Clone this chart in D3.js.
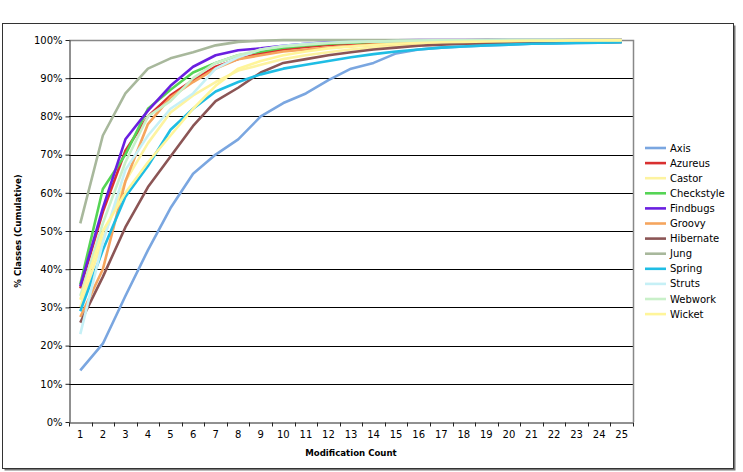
<!DOCTYPE html>
<html>
<head>
<meta charset="utf-8">
<script src="https://cdn.jsdelivr.net/npm/d3@7"></script>
<style>
  body { margin: 0; background: #fff; }
  text { font-family: "DejaVu Sans", Verdana, sans-serif; }
</style>
</head>
<body>
<script>
const width = 743;
const height = 472;

const counts = d3.range(1, 26);
const yTicks = [0, 10, 20, 30, 40, 50, 60, 70, 80, 90, 100];

const projects = ["Axis", "Azureus", "Castor", "Checkstyle", "Findbugs", "Groovy", "Hibernate", "Jung", "Spring", "Struts", "Webwork", "Wicket"];
const colors = ["#7aa6e0", "#d93030", "#fdf3a0", "#55d455", "#6a1fe0", "#f5a55e", "#8b5555", "#a8b89c", "#1fbde4", "#c6f0f6", "#c9f0c9", "#fff59a"];

const axis       = [13.5, 20.5, 33, 45, 56, 65, 70, 74, 80, 83.5, 86, 89.5, 92.5, 94, 96.5, 97.5, 98, 98.3, 98.6, 98.8, 99, 99.1, 99.2, 99.3, 99.4];
const azureus    = [35, 55, 71, 80, 85.5, 89.5, 93, 95, 96.5, 97.5, 98.2, 98.7, 99, 99.3, 99.5, 99.6, 99.7, 99.8, 99.8, 99.9, 99.9, 99.9, 100, 100, 100];
const castor     = [30, 48, 63, 73, 81, 85.5, 89, 92, 93.5, 95, 96, 96.8, 97.5, 98, 98.5, 99, 99.2, 99.4, 99.5, 99.6, 99.7, 99.8, 99.8, 99.9, 99.9];
const checkstyle = [36, 61, 70, 82, 87, 91.5, 94, 96, 97, 98, 98.6, 99, 99.3, 99.5, 99.7, 99.8, 99.9, 99.9, 100, 100, 100, 100, 100, 100, 100];
const findbugs   = [35.5, 56, 74, 81.5, 88, 93, 96, 97.3, 97.8, 98.5, 99, 99.4, 99.6, 99.8, 99.9, 100, 100, 100, 100, 100, 100, 100, 100, 100, 100];
const groovy     = [27.5, 40, 63, 78, 85, 89, 92.5, 95, 96, 97, 97.5, 98, 98.4, 98.8, 99, 99.2, 99.4, 99.5, 99.6, 99.7, 99.8, 99.8, 99.9, 99.9, 100];
const hibernate  = [26, 38, 51, 61.5, 69.5, 77.5, 84, 87.5, 91.5, 94, 95, 96, 96.8, 97.5, 98, 98.5, 98.8, 99, 99.1, 99.2, 99.3, 99.3, 99.4, 99.4, 99.5];
const jung       = [52, 75, 86, 92.5, 95.2, 96.8, 98.6, 99.5, 99.8, 100, 100, 100, 100, 100, 100, 100, 100, 100, 100, 100, 100, 100, 100, 100, 100];
const spring     = [29, 45, 59, 67, 76.5, 82, 86.5, 89, 91, 92.5, 93.5, 94.5, 95.5, 96.3, 97, 97.5, 98, 98.3, 98.6, 98.8, 99, 99.1, 99.2, 99.3, 99.4];
const struts     = [23, 47, 66, 75, 82, 86, 92.5, 95.5, 97.5, 98.5, 99, 99.3, 99.5, 99.6, 99.7, 99.8, 99.9, 99.9, 99.9, 100, 100, 100, 100, 100, 100];
const webwork    = [33, 52, 68, 80, 84, 90, 94, 96, 97.5, 98.3, 98.8, 99.2, 99.4, 99.6, 99.7, 99.8, 99.9, 99.9, 99.9, 100, 100, 100, 100, 100, 100];
const wicket     = [32, 50, 60, 68, 75, 82, 88, 92.5, 94.5, 96, 97, 97.8, 98.3, 98.7, 99, 99.2, 99.4, 99.5, 99.6, 99.7, 99.8, 99.8, 99.9, 99.9, 99.9];

const seriesValues = [axis, azureus, castor, checkstyle, findbugs, groovy, hibernate, jung, spring, struts, webwork, wicket];
const series = projects.map((name, i) => ({ name, color: colors[i], values: seriesValues[i] }));

const margin = { left: 69, right: 110, top: 40, bottom: 50 };
const plotRight = 633;
const plotBottom = 422;

const x = d3.scaleBand()
  .domain(counts)
  .range([margin.left, plotRight]);

const y = d3.scaleLinear()
  .domain([0, 100])
  .range([plotBottom, margin.top]);

const svg = d3.select("body")
  .append("svg")
  .attr("width", width)
  .attr("height", height);

// chart border with shadow
svg.append("rect")
  .attr("x", 4.5).attr("y", 25.5)
  .attr("width", 731).attr("height", 445)
  .attr("fill", "#777");
svg.append("rect")
  .attr("x", 2.5).attr("y", 23.5)
  .attr("width", 731).attr("height", 445)
  .attr("fill", "#fff")
  .attr("stroke", "#333")
  .attr("stroke-width", 1);

// gridlines
svg.append("g")
  .selectAll("line")
  .data(yTicks.filter(d => d > 0 && d < 100))
  .join("line")
  .attr("x1", margin.left)
  .attr("x2", plotRight)
  .attr("y1", d => Math.round(y(d)) + 0.5)
  .attr("y2", d => Math.round(y(d)) + 0.5)
  .attr("stroke", "#000")
  .attr("stroke-width", 1);

// plot area border (top and right)
svg.append("path")
  .attr("d", `M${margin.left},${y(100) + 0.5}H${plotRight + 0.5}V${plotBottom}`)
  .attr("fill", "none")
  .attr("stroke", "#888")
  .attr("stroke-width", 1.5);

// y axis
const yAxis = svg.append("g")
  .attr("transform", `translate(${margin.left + 0.5},0)`)
  .call(d3.axisLeft(y).tickValues(yTicks).tickFormat(d => d + "%").tickSize(4).tickSizeOuter(0));
yAxis.select(".domain").attr("stroke", "#222");
yAxis.selectAll(".tick line").attr("stroke", "#222").attr("x2", -4).attr("x1", 0);
yAxis.selectAll(".tick text").attr("x", -7).attr("font-size", "10px").attr("fill", "#000")
  .style("font-family", "DejaVu Sans, Verdana, sans-serif");

// x axis
const xAxis = svg.append("g")
  .attr("transform", `translate(0,${plotBottom + 0.5})`)
  .call(d3.axisBottom(x).tickSize(0).tickSizeOuter(0));
xAxis.select(".domain").attr("stroke", "#222");
xAxis.selectAll(".tick text").attr("dy", "1.1em").attr("y", 4).attr("font-size", "10px").attr("fill", "#000")
  .style("font-family", "DejaVu Sans, Verdana, sans-serif");
xAxis.append("g")
  .selectAll("line")
  .data(counts.concat([26]))
  .join("line")
  .attr("x1", d => d <= 25 ? Math.round(x(d)) + 0.5 : plotRight + 0.5)
  .attr("x2", d => d <= 25 ? Math.round(x(d)) + 0.5 : plotRight + 0.5)
  .attr("y1", 0)
  .attr("y2", 4)
  .attr("stroke", "#222");

// axis titles
svg.append("text")
  .attr("x", (margin.left + plotRight) / 2)
  .attr("y", 456)
  .attr("text-anchor", "middle")
  .attr("font-size", "8.6px")
  .attr("font-weight", "bold")
  .text("Modification Count");

svg.append("text")
  .attr("transform", `translate(21,${(margin.top + plotBottom) / 2}) rotate(-90)`)
  .attr("text-anchor", "middle")
  .attr("font-size", "8.6px")
  .attr("font-weight", "bold")
  .text("% Classes (Cumulative)");

// lines
const line = d3.line()
  .x((d, i) => x(counts[i]) + x.bandwidth() / 2)
  .y(d => y(d));

svg.append("g")
  .selectAll("path")
  .data(series)
  .join("path")
  .attr("d", d => line(d.values))
  .attr("fill", "none")
  .attr("stroke", d => d.color)
  .attr("stroke-width", 2.6)
  .attr("stroke-linejoin", "round");

// legend
const legend = svg.append("g")
  .attr("transform", "translate(645,148)")
  .selectAll("g")
  .data(series)
  .join("g")
  .attr("transform", (d, i) => `translate(0,${i * 15.1})`);

legend.append("line")
  .attr("x1", 0).attr("x2", 21)
  .attr("stroke", d => d.color)
  .attr("stroke-width", 2.6);

legend.append("text")
  .attr("x", 25)
  .attr("dy", "0.35em")
  .attr("font-size", "10px")
  .text(d => d.name);
</script>
</body>
</html>
